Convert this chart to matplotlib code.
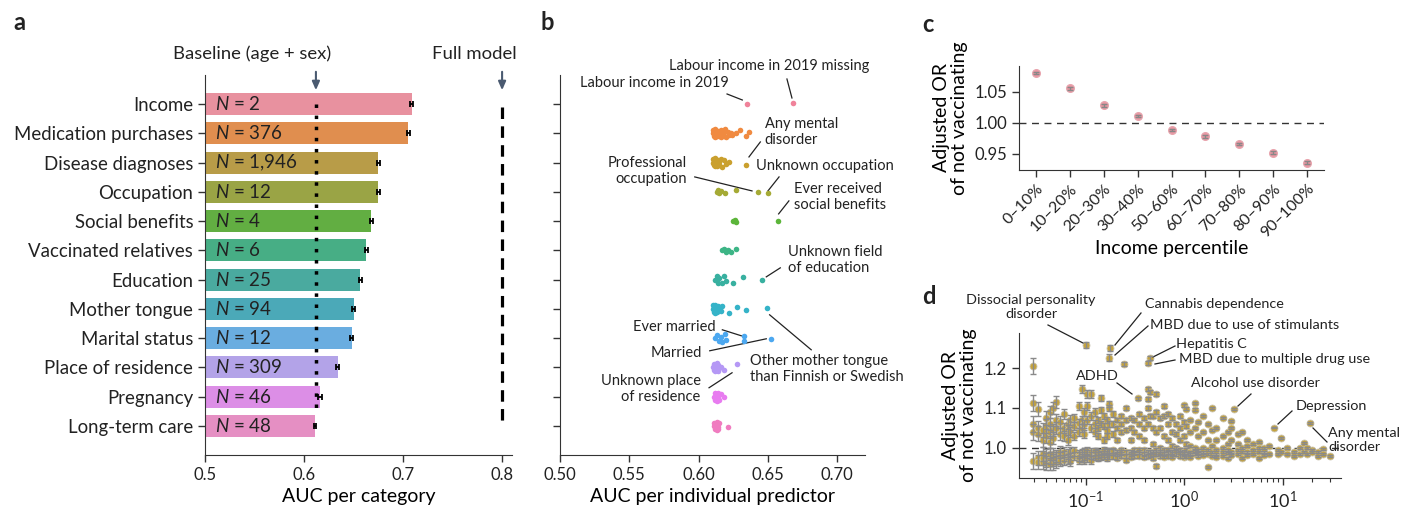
import numpy as np
import matplotlib.pyplot as plt

plt.rcParams['font.family'] = ['Lato', 'DejaVu Sans']
plt.rcParams['mathtext.fontset'] = 'custom'
plt.rcParams['mathtext.rm'] = 'Lato'
plt.rcParams['mathtext.it'] = 'Lato:italic'
plt.rcParams['text.color'] = '#222222'
plt.rcParams['axes.edgecolor'] = '#333333'
plt.rcParams['xtick.color'] = '#333333'
plt.rcParams['ytick.color'] = '#333333'
plt.rcParams['xtick.labelcolor'] = '#222222'
plt.rcParams['ytick.labelcolor'] = '#222222'

# ---- panel a: AUC per category ----
categories = ['Income', 'Medication purchases', 'Disease diagnoses', 'Occupation',
              'Social benefits', 'Vaccinated relatives', 'Education', 'Mother tongue',
              'Marital status', 'Place of residence', 'Pregnancy', 'Long-term care']
n_predictors = ['2', '376', '1,946', '12', '4', '6', '25', '94', '12', '309', '46', '48']
auc_category = [0.709, 0.705, 0.675, 0.675, 0.668, 0.663, 0.657, 0.650, 0.648, 0.634, 0.616, 0.611]
auc_err = [0.0015, 0.0015, 0.0015, 0.0015, 0.0015, 0.0015, 0.0015, 0.0015, 0.0015, 0.0015, 0.002, 0.001]
baseline_auc = 0.612
full_auc = 0.80

bar_colors = ['#e8919f', '#e08e4f', '#b89c48', '#9aa445', '#62ae42', '#47ae85',
              '#4aaa9f', '#4ba9b8', '#6aade0', '#b3a3e8', '#dc8ee6', '#e58fc3']
dot_colors = ['#f0829a', '#f08a40', '#caa02e', '#a5aa35', '#5cb53a', '#3db586',
              '#38b0a0', '#35b3c8', '#4ca8f0', '#b598f5', '#e87cf0', '#f07cc0']

# ---- panel b: AUC per individual predictor (one list per category) ----
auc_single = [
    [0.635, 0.668],
    [0.610, 0.610, 0.611, 0.611, 0.612, 0.612, 0.613, 0.613, 0.614, 0.614, 0.615, 0.615,
     0.616, 0.616, 0.617, 0.617, 0.618, 0.618, 0.619, 0.620, 0.621, 0.622, 0.623, 0.624,
     0.627, 0.630, 0.634, 0.636],
    [0.610, 0.610, 0.611, 0.611, 0.612, 0.612, 0.613, 0.613, 0.614, 0.614, 0.615, 0.615,
     0.616, 0.617, 0.618, 0.620, 0.622, 0.634],
    [0.613, 0.614, 0.615, 0.616, 0.619, 0.627, 0.643, 0.650],
    [0.625, 0.626, 0.627, 0.657],
    [0.617, 0.618, 0.620, 0.621, 0.623, 0.627],
    [0.612, 0.613, 0.614, 0.615, 0.617, 0.618, 0.620, 0.625, 0.632, 0.646],
    [0.610, 0.610, 0.611, 0.611, 0.612, 0.612, 0.613, 0.613, 0.614, 0.614, 0.615, 0.616,
     0.617, 0.622, 0.628, 0.634, 0.649],
    [0.612, 0.613, 0.615, 0.616, 0.617, 0.619, 0.620, 0.633, 0.633, 0.652],
    [0.610, 0.611, 0.611, 0.612, 0.612, 0.613, 0.613, 0.614, 0.614, 0.615, 0.616, 0.618, 0.628],
    [0.611, 0.612, 0.612, 0.613, 0.613, 0.614, 0.614, 0.615, 0.616, 0.618],
    [0.611, 0.611, 0.612, 0.612, 0.613, 0.613, 0.614, 0.614, 0.615, 0.621],
]
jitter = [0.0, -0.12, 0.1, -0.05, 0.13, -0.14, 0.05, 0.11, -0.09, 0.02, -0.02, 0.08,
          -0.11, 0.14, -0.07, 0.04, -0.03, 0.09, -0.13, 0.12, -0.06, 0.06, 0.0, 0.07]

# ---- panel c: income percentile ----
income_pct = ['0–10%', '10–20%', '20–30%', '30–40%', '50–60%', '60–70%',
              '70–80%', '80–90%', '90–100%']
income_or = [1.081, 1.056, 1.0285, 1.011, 0.989, 0.9785, 0.966, 0.952, 0.936]
income_err = [0.002, 0.002, 0.002, 0.002, 0.002, 0.002, 0.002, 0.002, 0.002]

# ---- panel d: diagnoses, grouped by x position ----
diag_x = [0.029, 0.033, 0.037, 0.040, 0.044, 0.047, 0.050, 0.055, 0.060, 0.066,
          0.070, 0.077, 0.085, 0.091, 0.097, 0.104, 0.114, 0.125, 0.135, 0.142,
          0.155, 0.165, 0.174, 0.190, 0.210, 0.230, 0.260, 0.290, 0.310, 0.350,
          0.390, 0.430, 0.454, 0.480, 0.520, 0.570, 0.630, 0.680, 0.750, 0.820,
          0.900, 0.990, 1.05, 1.15, 1.29, 1.40, 1.55, 1.75, 1.90, 2.10,
          2.50, 2.80, 3.00, 3.50, 3.90, 4.40, 5.00, 5.80, 6.50, 7.30,
          9.00, 9.60, 11.0, 13.0, 15.0, 16.5, 17.9, 20.0, 23.0, 26.0, 30.0]
diag_or = [
    [1.206, 1.113, 1.060, 1.040, 0.968], [1.097, 1.050, 1.036, 0.975, 0.965],
    [1.045, 1.020, 0.985, 0.965, 0.975],
    [1.075, 1.055, 1.030, 0.970, 0.980, 0.962], [1.090, 1.060, 1.040, 1.015, 0.975, 0.960, 0.985],
    [1.100, 1.045, 1.025, 0.970, 0.985, 0.962], [1.115, 1.070, 1.050, 0.980, 0.965, 0.975],
    [1.065, 1.035, 0.975, 0.990, 0.968], [1.085, 1.050, 1.030, 0.970, 0.980, 0.990],
    [1.060, 1.045, 1.020, 0.985, 0.972],
    [1.070, 1.040, 0.975, 0.990, 0.968], [1.075, 1.055, 1.030, 0.980, 0.992],
    [1.105, 1.062, 1.040, 0.985, 0.970, 0.978],
    [1.148, 1.070, 1.050, 0.975, 0.988], [1.090, 1.060, 1.035, 0.990, 0.980, 0.970],
    [1.135, 1.105, 1.070, 0.985, 0.975, 0.992], [1.135, 1.080, 1.050, 0.990, 0.970, 0.982],
    [1.090, 1.060, 1.040, 0.985, 0.980, 0.992], [1.070, 1.050, 1.030, 0.990, 0.975, 0.983],
    [1.125, 1.095, 1.060, 0.985, 0.978], [1.080, 1.055, 1.020, 0.990, 0.980, 0.995],
    [1.070, 1.045, 1.030, 0.985, 0.975, 0.992], [1.110, 1.100, 1.060, 0.990, 0.980],
    [1.085, 1.060, 1.035, 0.990, 0.980, 0.994], [1.070, 1.050, 1.020, 0.990, 0.985, 0.975],
    [1.080, 1.060, 1.040, 0.995, 0.980, 0.988], [1.100, 1.070, 1.045, 0.990, 0.980, 0.970],
    [1.075, 1.050, 1.020, 0.990, 0.985, 0.978], [1.070, 1.040, 0.995, 0.980, 0.988],
    [1.085, 1.060, 1.030, 0.990, 0.980, 0.996], [1.075, 1.050, 1.020, 0.995, 0.985, 0.978],
    [1.148, 1.122, 1.100, 1.060, 0.990, 0.980], [1.140, 1.080, 0.990, 0.983],
    [1.080, 1.050, 1.010, 0.990, 0.975, 0.985], [1.135, 1.090, 1.040, 0.995, 0.985, 0.955],
    [1.075, 1.050, 1.000, 0.990, 0.980, 0.986], [1.105, 1.080, 1.030, 0.995, 0.985, 0.978],
    [1.085, 1.060, 1.020, 0.990, 0.980, 0.996], [1.075, 1.040, 1.005, 0.990, 0.985, 0.978],
    [1.060, 1.035, 1.000, 0.985, 0.993], [1.080, 1.050, 1.020, 0.995, 0.980, 0.988],
    [1.107, 1.065, 1.030, 0.990, 0.985, 0.978], [1.098, 1.055, 1.010, 0.995, 0.980],
    [1.070, 1.040, 1.005, 0.990, 0.985, 0.978], [1.113, 1.096, 1.050, 1.000, 0.985, 0.992],
    [1.065, 1.030, 0.995, 0.980, 0.988], [1.080, 1.040, 1.000, 0.990, 0.983],
    [1.060, 1.020, 0.995, 0.985, 0.952], [1.100, 1.045, 1.005, 0.990, 0.980],
    [1.050, 1.020, 0.995, 0.985, 0.978], [1.075, 1.030, 1.000, 0.990, 0.980],
    [1.040, 1.010, 0.995, 0.975, 0.988], [1.068, 1.050, 1.020, 0.990, 0.982],
    [1.035, 1.010, 0.995, 0.985], [1.040, 1.000, 0.990, 0.975], [1.020, 1.005, 0.990, 0.982],
    [1.010, 0.995, 0.985], [1.015, 1.000, 0.990, 0.975], [1.000, 0.990, 0.982], [1.005, 0.985],
    [0.995, 0.985], [1.025, 0.990], [1.000, 0.985], [0.990, 0.980], [1.000, 0.985],
    [1.012, 0.990], [1.000, 0.985], [0.995, 0.990], [0.990, 0.980], [0.998, 0.985], [0.980],
]
diag_err = [0.02, 0.018, 0.018, 0.017, 0.016, 0.016, 0.015, 0.014, 0.013, 0.012,
            0.012, 0.011, 0.011, 0.01, 0.01, 0.01, 0.009, 0.009, 0.008, 0.008,
            0.008, 0.007, 0.007, 0.007, 0.006, 0.006, 0.006, 0.006, 0.005, 0.005,
            0.005, 0.005, 0.005, 0.005, 0.004, 0.004, 0.004, 0.004, 0.004, 0.004,
            0.004, 0.004, 0.004, 0.003, 0.003, 0.003, 0.003, 0.003, 0.003, 0.003,
            0.003, 0.003, 0.003, 0.003, 0.003, 0.003, 0.003, 0.003, 0.003, 0.003,
            0.002, 0.002, 0.002, 0.002, 0.002, 0.002, 0.002, 0.002, 0.002, 0.002, 0.002]

named_diag = ['Dissocial personality\ndisorder', 'Cannabis dependence',
              'MBD due to use of stimulants', 'Hepatitis C', 'MBD due to multiple drug use',
              'ADHD', 'Alcohol use disorder', 'Depression', 'Any mental\ndisorder']
named_x = [0.102, 0.178, 0.174, 0.454, 0.431, 0.338, 3.22, 8.15, 19.0]
named_or = [1.258, 1.250, 1.226, 1.224, 1.212, 1.124, 1.097, 1.051, 1.062]
named_err = [0.008, 0.008, 0.008, 0.005, 0.005, 0.004, 0.003, 0.002, 0.002]
extra_x = [0.243]
extra_or = [1.210]

# ------------------------------------------------------------------
fig = plt.figure(figsize=(14.15, 5.09), dpi=100)
H = 509.0
W = 1415.0


def row_of(py):
    return (py - 104) / 29.3


# panel a
ax = fig.add_axes([205 / W, 1 - 455 / H, 307 / W, 380 / H])
rows = np.arange(len(categories))
ax.barh(rows, np.array(auc_category) - 0.5, left=0.5, height=0.75,
        color=bar_colors, zorder=2)
ax.errorbar(auc_category, rows, xerr=auc_err, fmt='none', ecolor='black',
            elinewidth=1.3, capsize=2.5, capthick=1.3, zorder=3)
ax.plot([baseline_auc, baseline_auc], [0.0, 10.62], ls=(0, (1, 2.2)), lw=2.5,
        color='black', zorder=4)
ax.plot([full_auc, full_auc], [0.1, 10.95], ls=(0, (3.6, 2.3)), lw=2.3,
        color='black', zorder=4)
for i, n in enumerate(n_predictors):
    ax.text(0.5105, i, '$\\it{N}$ = ' + n, fontsize=13.5, va='center', ha='left', zorder=5)
for xv in [baseline_auc, full_auc]:
    ax.annotate('', xy=(xv, row_of(93)), xytext=(xv, row_of(69)),
                arrowprops=dict(arrowstyle='-|>,head_length=0.5,head_width=0.22',
                                color='#4a5a70', lw=1.5), annotation_clip=False)
ax.text(0.5475, row_of(54), 'Baseline (age + sex)', fontsize=13.3, ha='center', va='center')
ax.text(0.7718, row_of(54), 'Full model', fontsize=13.3, ha='center', va='center')
ax.set_yticks(rows)
ax.set_yticklabels(categories, fontsize=13.4)
ax.set_ylim(11.99, -0.99)
ax.set_xlim(0.5, 0.81)
ax.set_xticks([0.5, 0.6, 0.7, 0.8])
ax.set_xticklabels(['0.5', '0.6', '0.7', '0.8'], fontsize=12)
ax.set_xlabel('AUC per category', fontsize=14, labelpad=4)
ax.spines[['top', 'right']].set_visible(False)
ax.tick_params(length=5, width=1)

# panel b
bx = fig.add_axes([560 / W, 1 - 455 / H, 305 / W, 380 / H])
for i, vals in enumerate(auc_single):
    ys = [i + jitter[k % len(jitter)] * (1 if len(vals) > 8 else 0.4) for k in range(len(vals))]
    bx.scatter(vals, ys, s=16, color=dot_colors[i], linewidths=0, zorder=3)


def label_b(txt, tx, ty, x0, y0, x1, y1, ha='left'):
    bx.text(tx, row_of(ty), txt, fontsize=10.5, ha=ha, va='center', linespacing=1.15)
    bx.plot([x0, x1], [row_of(y0), row_of(y1)], color='#222222', lw=0.9, clip_on=False)


label_b('Labour income in 2019', 0.622, 83, 0.6205, 94, 0.6315, 100, ha='right')
label_b('Labour income in 2019 missing', 0.5787, 66, 0.6637, 79, 0.6673, 98)
label_b('Any mental\ndisorder', 0.6476, 132, 0.6363, 157, 0.6445, 142)
label_b('Professional\noccupation', 0.5917, 171, 0.5972, 177, 0.6385, 191, ha='right')
label_b('Unknown occupation', 0.6411, 166, 0.650, 191, 0.658, 177)
label_b('Ever received\nsocial benefits', 0.6688, 197, 0.6577, 214, 0.6651, 201)
label_b('Unknown field\nof education', 0.6644, 260, 0.6488, 277, 0.6589, 268)
label_b('Other mother tongue\nthan Finnish or Swedish', 0.6373, 369, 0.6512, 315, 0.6812, 350)
label_b('Ever married', 0.6123, 327, 0.6171, 330, 0.6308, 336, ha='right')
label_b('Married', 0.6027, 353, 0.608, 351, 0.6488, 339, ha='right')
label_b('Unknown place\nof residence', 0.6015, 389, 0.6075, 388, 0.6241, 373, ha='right')
bx.set_ylim(11.99, -0.99)
bx.set_xlim(0.5, 0.72)
bx.set_yticks(rows)
bx.set_yticklabels([])
bx.set_xticks([0.50, 0.55, 0.60, 0.65, 0.70])
bx.set_xticklabels(['0.50', '0.55', '0.60', '0.65', '0.70'], fontsize=12)
bx.set_xlabel('AUC per individual predictor', fontsize=14, labelpad=4)
bx.spines[['top', 'right']].set_visible(False)
bx.tick_params(length=5, width=1)

# panel c
cx = fig.add_axes([1019 / W, 1 - 170 / H, 305 / W, 104 / H])
pos = np.arange(len(income_pct))
cx.axhline(1.0, color='#333333', lw=1, ls=(0, (5, 4)), zorder=1)
cx.plot(pos, income_or, 'o', ms=5.5, color='#e8929f', mec='#e8a5ae', zorder=2)
cx.errorbar(pos, income_or, yerr=income_err, fmt='none', ecolor='#888888',
            elinewidth=1, capsize=2, zorder=3)
cx.set_xlim(-0.5, 8.5)
cx.set_ylim(0.924, 1.092)
cx.set_yticks([0.95, 1.00, 1.05])
cx.set_yticklabels(['0.95', '1.00', '1.05'], fontsize=12)
cx.set_xticks(pos)
cx.set_xticklabels(income_pct, rotation=45, ha='right', rotation_mode='anchor', fontsize=11.5)
cx.set_xlabel('Income percentile', fontsize=14, labelpad=0)
cx.set_ylabel('Adjusted OR\nof not vaccinating', fontsize=14, labelpad=5, linespacing=1.05)
cx.spines[['top', 'right']].set_visible(False)
cx.tick_params(length=5, width=1)

# panel d
dx = fig.add_axes([1019 / W, 1 - 478 / H, 322 / W, 145 / H])
gold = '#c6a43c'
all_x, all_y, all_e = [], [], []
for xv, ys, e in zip(diag_x, diag_or, diag_err):
    for yv in ys:
        all_x.append(xv)
        all_y.append(yv)
        all_e.append(e)
all_x += named_x + extra_x
all_y += named_or + extra_or
all_e += named_err + [0.006]
dx.axhline(1.0, color='#333333', lw=1, ls=(0, (5, 4)), zorder=1)
dx.plot(all_x, all_y, 'o', ms=5, color=gold, mec='#c9c3b0', mew=0.6, zorder=2)
dx.errorbar(all_x, all_y, yerr=all_e, fmt='none', ecolor='#8a8a8a',
            elinewidth=1, capsize=2, capthick=1, zorder=3)


def label_d(txt, tx, ty, x0, y0, x1, y1, ha='left'):
    # positions given in figure pixels (converted through the axes transform)
    inv = dx.transData.inverted()
    p = inv.transform((tx, H - ty))
    a = inv.transform((x0, H - y0))
    b = inv.transform((x1, H - y1))
    dx.text(p[0], p[1], txt, fontsize=10.4, ha=ha, va='center', linespacing=1.15, clip_on=False)
    dx.plot([a[0], b[0]], [a[1], b[1]], color='#222222', lw=0.9, clip_on=False)


dx.set_xscale('log')
dx.set_xlim(0.0211, 39.2)
dx.set_ylim(0.925, 1.2875)
dx.set_yticks([1.0, 1.1, 1.2])
dx.set_yticklabels(['1.0', '1.1', '1.2'], fontsize=12)
dx.set_xticks([0.1, 1, 10])
dx.tick_params(axis='x', labelsize=13)
dx.set_ylabel('Adjusted OR\nof not vaccinating', fontsize=14, labelpad=5, linespacing=1.05)
dx.spines[['top', 'right']].set_visible(False)
dx.tick_params(length=5, width=1)
dx.tick_params(which='minor', length=3, width=0.8)
fig.canvas.draw()
label_d(named_diag[0], 1031, 307, 1048, 325, 1083, 343, ha='center')
label_d(named_diag[1], 1145, 304, 1115, 345, 1141, 313)
label_d(named_diag[2], 1150, 325, 1115, 355, 1148, 326)
label_d(named_diag[3], 1176, 344, 1153, 357, 1175, 346)
label_d(named_diag[4], 1179, 359, 1155, 364, 1175, 360)
label_d(named_diag[5], 1097, 376, 1117, 383, 1132, 394, ha='center')
label_d(named_diag[6], 1191, 383, 1238, 406, 1251, 394)
label_d(named_diag[7], 1296, 406, 1278, 424, 1292, 411)
label_d(named_diag[8], 1328, 440, 1313, 428, 1327, 442)

fig.text(13 / W, 1 - 22 / H, 'a', fontsize=17, fontweight='bold', va='center')
fig.text(541 / W, 1 - 22 / H, 'b', fontsize=17, fontweight='bold', va='center')
fig.text(922 / W, 1 - 24 / H, 'c', fontsize=17, fontweight='bold', va='center')
fig.text(922 / W, 1 - 296 / H, 'd', fontsize=17, fontweight='bold', va='center')

fig.savefig('out.png', dpi=100)
